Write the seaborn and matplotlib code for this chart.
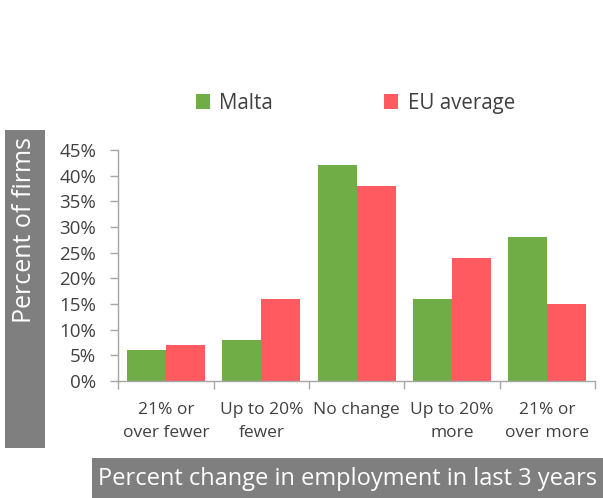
import matplotlib
matplotlib.use("Agg")
import matplotlib.pyplot as plt
import seaborn as sns
import pandas as pd
from matplotlib.patches import Rectangle
from matplotlib.ticker import FixedLocator

categories = ["21% or\nover fewer", "Up to 20%\nfewer", "No change", "Up to 20%\nmore", "21% or\nover more"]
malta = [6, 8, 42, 16, 28]
eu_average = [7, 16, 38, 24, 15]
series_names = ["Malta", "EU average"]
yticks = [0, 5, 10, 15, 20, 25, 30, 35, 40, 45]

df = pd.DataFrame({
    "category": categories * 2,
    "series": [series_names[0]] * len(categories) + [series_names[1]] * len(categories),
    "value": [v / 100 for v in malta] + [v / 100 for v in eu_average],
})

sns.set_theme(style="white")
plt.rcParams["font.family"] = ["Open Sans", "DejaVu Sans"]

fig = plt.figure(figsize=(6.03, 4.98), dpi=100)
ax = fig.add_axes([0.1963, 0.2349, 0.7904, 0.4639])

palette = {"Malta": "#70AD47", "EU average": "#FF5A5F"}
sns.barplot(data=df, x="category", y="value", hue="series", order=categories,
            hue_order=series_names, palette=palette, width=0.82, saturation=1,
            linewidth=0, ax=ax, legend=True)

ax.set_ylim(0, 0.45)
ax.set_xlim(-0.5, len(categories) - 0.5)
ax.set_yticks([t / 100 for t in yticks])
ax.set_yticklabels([f"{t}%" for t in yticks], fontsize=13.5, color="#404040")
ax.set_xticks(range(len(categories)))
ax.set_xticklabels(categories, fontsize=12.5, color="#404040", linespacing=1.6)
ax.xaxis.set_minor_locator(FixedLocator([i - 0.5 for i in range(len(categories) + 1)]))
ax.tick_params(axis="x", which="major", length=0, pad=15)
ax.tick_params(axis="x", which="minor", length=6, color="#A6A6A6", width=1, direction="out", bottom=True)
ax.tick_params(axis="y", length=6, color="#A6A6A6", width=1, direction="out", left=True, pad=10)
ax.set_xlabel("")
ax.set_ylabel("")
for s in ["top", "right"]:
    ax.spines[s].set_visible(False)
for s in ["left", "bottom"]:
    ax.spines[s].set_color("#A6A6A6")
    ax.spines[s].set_linewidth(1)

handles, labels = ax.get_legend_handles_labels()
ax.get_legend().remove()
fig.legend(handles, labels, loc="center", bbox_to_anchor=(0.589, 0.793), ncol=2,
           frameon=False, fontsize=14.8, handlelength=0.7, handleheight=0.7,
           handletextpad=0.45, columnspacing=5.4, labelcolor="#404040")

# Gray title bands
fig.patches.append(Rectangle((5 / 603, 1 - 448 / 498), 40 / 603, 318 / 498,
                             transform=fig.transFigure, facecolor="#7F7F7F",
                             edgecolor="none", zorder=0))
fig.text(25 / 603, 1 - 230 / 498, "Percent of firms", rotation=90, color="white",
         fontsize=18, ha="center", va="center")
fig.patches.append(Rectangle((92 / 603, 0), 511 / 603, 40 / 498,
                             transform=fig.transFigure, facecolor="#7F7F7F",
                             edgecolor="none", zorder=0))
fig.text(348 / 603, 1 - 479 / 498, "Percent change in employment in last 3 years",
         color="white", fontsize=17, ha="center", va="center")

fig.savefig("out.png", dpi=100)
